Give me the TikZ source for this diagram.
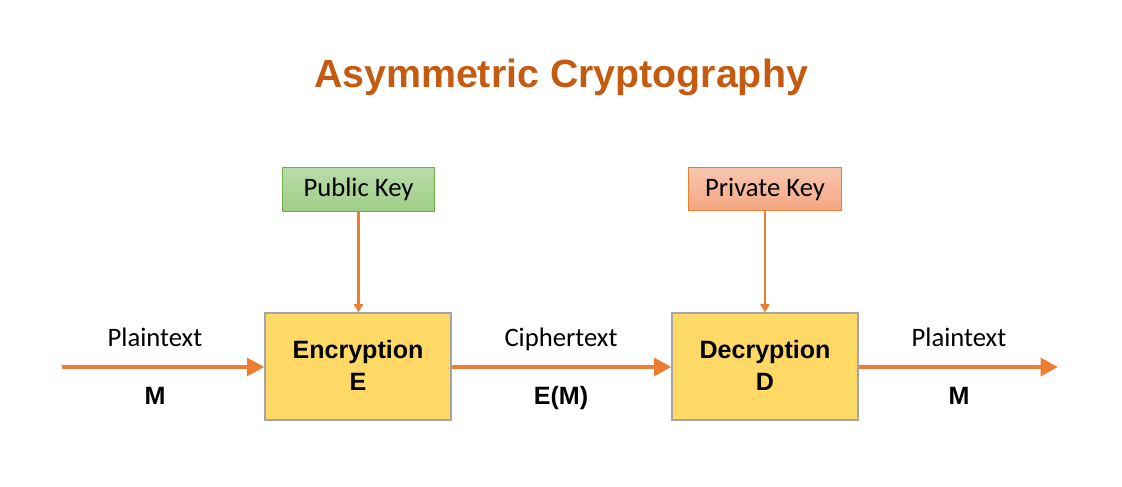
\documentclass[tikz,border=0pt]{standalone}
\usepackage{fontspec}
\setmainfont{Carlito}
\newfontfamily\arialb{Liberation Sans}
\usetikzlibrary{arrows.meta}
\definecolor{arrowor}{HTML}{ED7D31}
\definecolor{titleor}{HTML}{C55A11}
\definecolor{boxyel}{HTML}{FFD966}
\definecolor{boxgrey}{HTML}{A5A5A5}
\definecolor{pubtop}{HTML}{B8DBA8}
\definecolor{pubbot}{HTML}{9FCE87}
\definecolor{publine}{HTML}{70AD47}
\definecolor{privtop}{HTML}{F9C7B0}
\definecolor{privbot}{HTML}{F4A681}
\tikzset{
  x=0.75pt, y=-0.75pt,
  procbox/.style={draw=boxgrey, line width=0.8pt, fill=boxyel, minimum width=139.5pt, minimum height=80.25pt, inner sep=0pt},
  keybox/.style={line width=0.75pt, minimum width=114.5pt, minimum height=32.5pt, inner sep=0pt, font=\fontsize{20}{24}\selectfont},
  thick arrow/.style={draw=arrowor, line width=3.6pt, -{Triangle[length=13pt,width=13pt]}},
  thin arrow/.style={draw=arrowor, line width=2pt, -{Triangle[length=6.5pt,width=7pt]}},
  lbl/.style={anchor=base, inner sep=0pt, font=\fontsize{20}{24}\selectfont},
  blbl/.style={anchor=base, inner sep=0pt, font=\arialb\bfseries\fontsize{18.8}{22}\selectfont},
  boxlbl/.style={anchor=base, inner sep=0pt, font=\arialb\bfseries\fontsize{18.8}{22}\selectfont},
}
\begin{document}
\begin{tikzpicture}
\useasboundingbox (0,0) rectangle (1122,486);
\node[anchor=base, inner sep=0pt, text=titleor, font=\arialb\bfseries\fontsize{29.5}{34}\selectfont] (title) at (561,87) {Asymmetric Cryptography};

\node[keybox, draw=publine, top color=pubtop, bottom color=pubbot] (pub) at (358.5,189.5) {Public Key};
\node[keybox, draw=arrowor, top color=privtop, bottom color=privbot] (priv) at (765,189) {Private Key};

\node[procbox] (enc) at (358,366.5) {};
\node[procbox] (dec) at (765,366.5) {};

\node[boxlbl] (encl1) at (358,358) {Encryption};
\node[boxlbl] (encl2) at (358,390) {E};
\node[boxlbl] (decl1) at (765,358) {Decryption};
\node[boxlbl] (decl2) at (765,390) {D};

\coordinate (start) at (62,367);
\coordinate (finish) at (1058,367);

\draw[thick arrow] (start) -- (enc.west |- start);
\draw[thick arrow] (enc.east |- start) -- (dec.west |- start);
\draw[thick arrow] (dec.east |- start) -- (finish);

\draw[thin arrow] (pub.south) -- (pub.south |- enc.north);
\draw[thin arrow] (priv.south) -- (priv.south |- dec.north);

\node[lbl] (pt1) at (155,346) {Plaintext};
\node[blbl] (m1) at (155,404) {M};
\node[lbl] (ct) at (561,346) {Ciphertext};
\node[blbl] (em) at (561,404) {E(M)};
\node[lbl] (pt2) at (959,346) {Plaintext};
\node[blbl] (m2) at (959,404) {M};
\end{tikzpicture}
\end{document}
